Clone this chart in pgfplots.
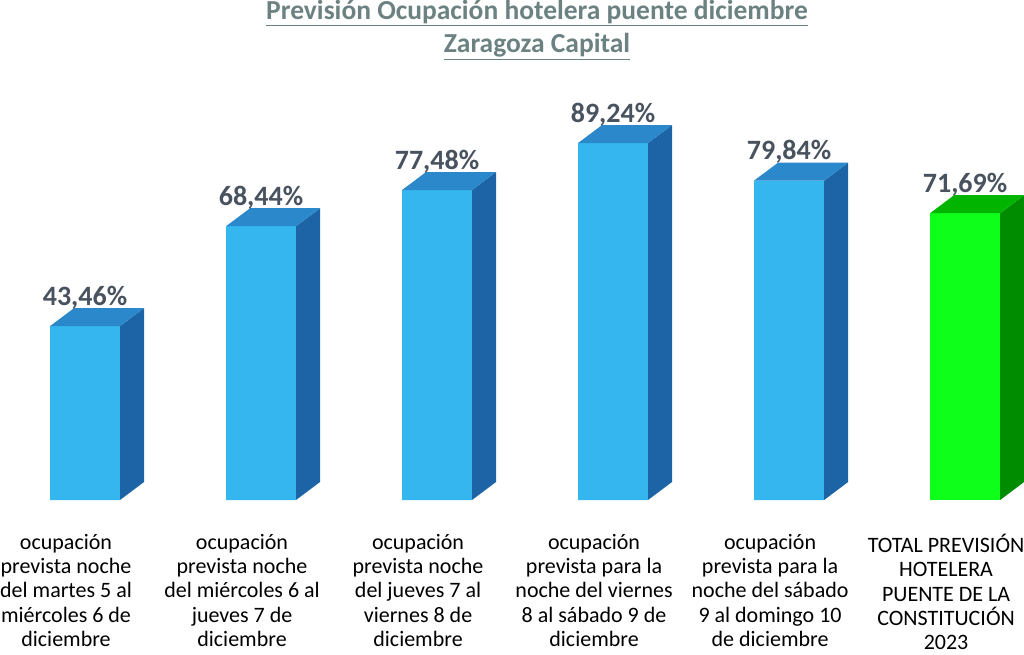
\documentclass[border=0pt]{standalone}
\usepackage{fontspec}
\setmainfont{Carlito}
\usepackage{pgfplots}
\pgfplotsset{compat=1.18}
\definecolor{bfront}{HTML}{35B6EE}
\definecolor{bside}{HTML}{1C64A6}
\definecolor{btop}{HTML}{2A88CB}
\definecolor{gfront}{HTML}{0DFF1A}
\definecolor{gside}{HTML}{008C00}
\definecolor{gtop}{HTML}{00B400}
\definecolor{lblc}{HTML}{48535F}
\definecolor{titc}{HTML}{6C8282}
\begin{document}
\begin{tikzpicture}[x=1pt,y=1pt]
\useasboundingbox (0,-154) rectangle (1024,500);
\begin{axis}[
  at={(0,0)}, anchor=south west,
  scale only axis, width=1024pt, height=400pt,
  xmin=-0.483, xmax=5.335, ymin=0, ymax=100,
  axis x line=bottom, axis y line=none,
  x axis line style={draw=none}, clip=false,
  xtick={0,1,2,3,4,5}, ytick=\empty,
  xticklabels={
    {ocupación\\prevista noche\\del martes 5 al\\miércoles 6 de\\diciembre},
    {ocupación\\prevista noche\\del miércoles 6 al\\jueves 7 de\\diciembre},
    {ocupación\\prevista noche\\del jueves 7 al\\viernes 8 de\\diciembre},
    {ocupación\\prevista para la\\noche del viernes\\8 al sábado 9 de\\diciembre},
    {ocupación\\prevista para la\\noche del sábado\\9 al domingo 10\\de diciembre},
    {TOTAL PREVISIÓN\\HOTELERA\\PUENTE DE LA\\CONSTITUCIÓN\\2023}},
  xticklabel style={align=center, anchor=north, xshift=-19pt, yshift=-30.5pt,
    font=\fontsize{22}{24.3}\selectfont, text=black},
  major tick length=0pt, tick style={draw=none},
]
% front faces
\addplot[ybar, bar width=0.3977, bar shift=0pt, fill=bfront, draw=none]
  coordinates {(0,43.46) (1,68.44) (2,77.48) (3,89.24) (4,79.84)};
\addplot[ybar, bar width=0.3977, bar shift=0pt, fill=gfront, draw=none]
  coordinates {(5,71.69)};
% side faces
\addplot[fill=bside, draw=none] coordinates {(0.1989,0)(0.3353,4.5)(0.3353,47.96)(0.1989,43.46)} -- cycle;
\addplot[fill=bside, draw=none] coordinates {(1.1989,0)(1.3353,4.5)(1.3353,72.94)(1.1989,68.44)} -- cycle;
\addplot[fill=bside, draw=none] coordinates {(2.1989,0)(2.3353,4.5)(2.3353,81.98)(2.1989,77.48)} -- cycle;
\addplot[fill=bside, draw=none] coordinates {(3.1989,0)(3.3353,4.5)(3.3353,93.74)(3.1989,89.24)} -- cycle;
\addplot[fill=bside, draw=none] coordinates {(4.1989,0)(4.3353,4.5)(4.3353,84.34)(4.1989,79.84)} -- cycle;
\addplot[fill=gside, draw=none] coordinates {(5.1989,0)(5.3353,4.5)(5.3353,76.19)(5.1989,71.69)} -- cycle;
% top faces
\addplot[fill=btop, draw=none] coordinates {(-0.1989,43.46)(0.1989,43.46)(0.3353,47.96)(-0.0625,47.96)} -- cycle;
\addplot[fill=btop, draw=none] coordinates {(0.8011,68.44)(1.1989,68.44)(1.3353,72.94)(0.9375,72.94)} -- cycle;
\addplot[fill=btop, draw=none] coordinates {(1.8011,77.48)(2.1989,77.48)(2.3353,81.98)(1.9375,81.98)} -- cycle;
\addplot[fill=btop, draw=none] coordinates {(2.8011,89.24)(3.1989,89.24)(3.3353,93.74)(2.9375,93.74)} -- cycle;
\addplot[fill=btop, draw=none] coordinates {(3.8011,79.84)(4.1989,79.84)(4.3353,84.34)(3.9375,84.34)} -- cycle;
\addplot[fill=gtop, draw=none] coordinates {(4.8011,71.69)(5.1989,71.69)(5.3353,76.19)(4.9375,76.19)} -- cycle;
% value labels
\addplot[only marks, mark=none, nodes near coords, point meta=explicit symbolic,
  nodes near coords style={anchor=base, text=lblc, font=\fontsize{28}{32}\selectfont\bfseries, inner sep=0pt}]
  coordinates {(0,48.7)[43,46\%] (1,73.7)[68,44\%] (2,82.7)[77,48\%] (3,94.5)[89,24\%] (4,85.1)[79,84\%] (5,76.9)[71,69\%]};
\node[align=center, text=titc, font=\fontsize{27.5}{33}\selectfont\bfseries]
  at (rel axis cs:0.5244,1.175) {\underline{Previsión Ocupación hotelera puente diciembre}\\\underline{Zaragoza Capital}};
\end{axis}
\end{tikzpicture}
\end{document}
